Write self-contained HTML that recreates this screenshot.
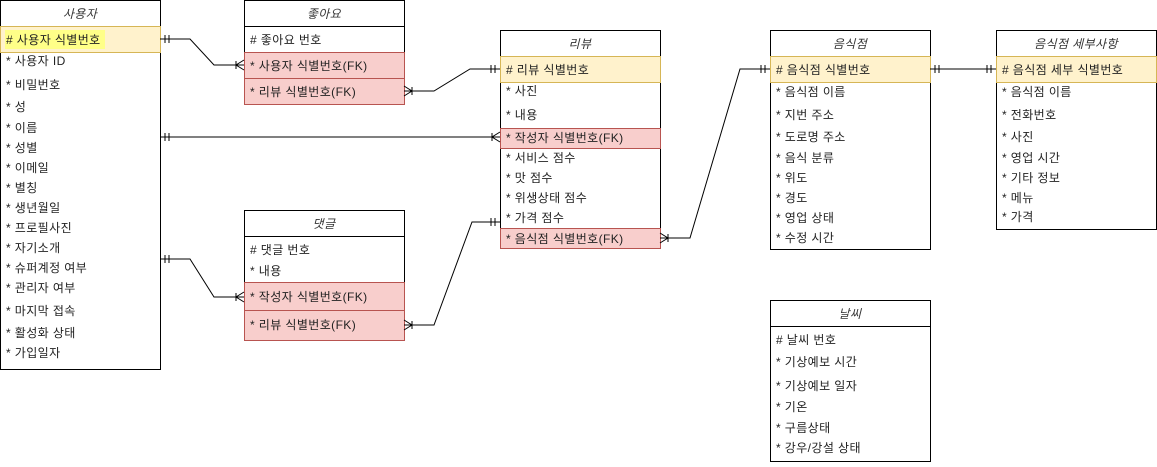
<!DOCTYPE html>
<html><head><meta charset="utf-8"><style>
body{margin:0;background:#fff;}
svg text{font-family:"Liberation Sans","Noto Sans CJK KR",sans-serif;font-size:12px;fill:#222;letter-spacing:0.4px;}
.h{font-style:italic;fill:#333;}
</style></head><body>
<svg width="1157" height="462" viewBox="0 0 1157 462" xmlns="http://www.w3.org/2000/svg">
<g fill="#fff" stroke="#000" stroke-width="1">
<rect x="0.5" y="0.5" width="160" height="369"/>
<rect x="244.5" y="0.5" width="160" height="104"/>
<rect x="500.5" y="30.5" width="160" height="218"/>
<rect x="244.5" y="210.5" width="160" height="130"/>
<rect x="770.5" y="30.5" width="160" height="219"/>
<rect x="996.5" y="30.5" width="160" height="199"/>
<rect x="770.5" y="300.5" width="160" height="161"/>
</g>
<g stroke="#000">
<line x1="0" y1="26.5" x2="161" y2="26.5"/>
<line x1="244" y1="26.5" x2="405" y2="26.5"/>
<line x1="500" y1="56.5" x2="661" y2="56.5"/>
<line x1="244" y1="236.5" x2="405" y2="236.5"/>
<line x1="770" y1="56.5" x2="931" y2="56.5"/>
<line x1="996" y1="56.5" x2="1157" y2="56.5"/>
<line x1="770" y1="326.5" x2="931" y2="326.5"/>
</g>
<g fill="#fff2cc" stroke="#d6b656">
<rect x="0.5" y="26.5" width="160" height="26"/>
<rect x="500.5" y="56.5" width="160" height="26"/>
<rect x="770.5" y="56.5" width="160" height="26"/>
<rect x="996.5" y="56.5" width="160" height="26"/>
</g>
<rect x="5" y="30" width="100" height="19" fill="#ffff88"/>
<g fill="#f8cecc" stroke="#b85450">
<rect x="244.5" y="52.5" width="160" height="26"/>
<rect x="244.5" y="78.5" width="160" height="26"/>
<rect x="500.5" y="128.5" width="160" height="20"/>
<rect x="500.5" y="228.5" width="160" height="20"/>
<rect x="244.5" y="282.5" width="160" height="28"/>
<rect x="244.5" y="310.5" width="160" height="30"/>
</g>
<g fill="none" stroke="#000" stroke-width="1">
<polyline points="160,39 190,39 214,65 244,65"/>
<line x1="165" y1="35" x2="165" y2="43"/><line x1="169" y1="35" x2="169" y2="43"/>
<line x1="236" y1="61" x2="236" y2="69"/><path d="M244,60 L236,65 L244,70"/>
<polyline points="404,91 434,91 470,69 500,69"/>
<line x1="491" y1="65" x2="491" y2="73"/><line x1="495" y1="65" x2="495" y2="73"/>
<line x1="412" y1="87" x2="412" y2="95"/><path d="M404,86 L412,91 L404,96"/>
<line x1="160" y1="137" x2="500" y2="137"/>
<line x1="165" y1="133" x2="165" y2="141"/><line x1="169" y1="133" x2="169" y2="141"/>
<line x1="492" y1="133" x2="492" y2="141"/><path d="M500,132 L492,137 L500,142"/>
<polyline points="160,259 190,259 214,297 244,297"/>
<line x1="165" y1="255" x2="165" y2="263"/><line x1="169" y1="255" x2="169" y2="263"/>
<line x1="236" y1="293" x2="236" y2="301"/><path d="M244,292 L236,297 L244,302"/>
<polyline points="404,325 434,325 472,222 500,222"/>
<line x1="491" y1="218" x2="491" y2="226"/><line x1="495" y1="218" x2="495" y2="226"/>
<line x1="412" y1="321" x2="412" y2="329"/><path d="M404,320 L412,325 L404,330"/>
<polyline points="660,238 690,238 740,69 770,69"/>
<line x1="668" y1="234" x2="668" y2="242"/><path d="M660,233 L668,238 L660,243"/>
<line x1="761" y1="65" x2="761" y2="73"/><line x1="765" y1="65" x2="765" y2="73"/>
<line x1="930" y1="69" x2="996" y2="69"/>
<line x1="935" y1="65" x2="935" y2="73"/><line x1="939" y1="65" x2="939" y2="73"/>
<line x1="987" y1="65" x2="987" y2="73"/><line x1="991" y1="65" x2="991" y2="73"/>
</g>
<text class="h" x="80" y="18" text-anchor="middle">사용자</text>
<text class="h" x="324" y="18" text-anchor="middle">좋아요</text>
<text class="h" x="580" y="48" text-anchor="middle">리뷰</text>
<text class="h" x="324" y="228" text-anchor="middle">댓글</text>
<text class="h" x="850" y="48" text-anchor="middle">음식점</text>
<text class="h" x="1076" y="48" text-anchor="middle">음식점 세부사항</text>
<text class="h" x="850" y="318" text-anchor="middle">날씨</text>
<text x="6" y="44">#&#160;사용자 식별번호</text>
<text x="6" y="65">* 사용자 ID</text>
<text x="6" y="89">* 비밀번호</text>
<text x="6" y="111">* 성</text>
<text x="6" y="132">* 이름</text>
<text x="6" y="152">* 성별</text>
<text x="6" y="172">* 이메일</text>
<text x="6" y="192">* 별칭</text>
<text x="6" y="212">* 생년월일</text>
<text x="6" y="232">* 프로필사진</text>
<text x="6" y="252">* 자기소개</text>
<text x="6" y="272">* 슈퍼계정 여부</text>
<text x="6" y="292">* 관리자 여부</text>
<text x="6" y="315">* 마지막 접속</text>
<text x="6" y="337">* 활성화 상태</text>
<text x="6" y="357">* 가입일자</text>
<text x="250" y="44"># 좋아요 번호</text>
<text x="250" y="70">* 사용자 식별번호(FK)</text>
<text x="250" y="96">* 리뷰 식별번호(FK)</text>
<text x="506" y="74"># 리뷰 식별번호</text>
<text x="506" y="95">* 사진</text>
<text x="506" y="119">* 내용</text>
<text x="506" y="142">* 작성자 식별번호(FK)</text>
<text x="506" y="162">* 서비스 점수</text>
<text x="506" y="182">* 맛 점수</text>
<text x="506" y="202">* 위생상태 점수</text>
<text x="506" y="222">* 가격 점수</text>
<text x="506" y="243">* 음식점 식별번호(FK)</text>
<text x="250" y="254"># 댓글 번호</text>
<text x="250" y="275">* 내용</text>
<text x="250" y="301">* 작성자 식별번호(FK)</text>
<text x="250" y="329">* 리뷰 식별번호(FK)</text>
<text x="776" y="74"># 음식점 식별번호</text>
<text x="776" y="96">* 음식점 이름</text>
<text x="776" y="119">* 지번 주소</text>
<text x="776" y="141">* 도로명 주소</text>
<text x="776" y="162">* 음식 분류</text>
<text x="776" y="182">* 위도</text>
<text x="776" y="202">* 경도</text>
<text x="776" y="222">* 영업 상태</text>
<text x="776" y="242">* 수정 시간</text>
<text x="1002" y="74"># 음식점 세부 식별번호</text>
<text x="1002" y="96">* 음식점 이름</text>
<text x="1002" y="119">* 전화번호</text>
<text x="1002" y="141">* 사진</text>
<text x="1002" y="162">* 영업 시간</text>
<text x="1002" y="182">* 기타 정보</text>
<text x="1002" y="202">* 메뉴</text>
<text x="1002" y="221">* 가격</text>
<text x="776" y="344"># 날씨 번호</text>
<text x="776" y="366">* 기상예보 시간</text>
<text x="776" y="390">* 기상예보 일자</text>
<text x="776" y="411">* 기온</text>
<text x="776" y="432">* 구름상태</text>
<text x="776" y="452">* 강우/강설 상태</text>
</svg>
</body></html>
